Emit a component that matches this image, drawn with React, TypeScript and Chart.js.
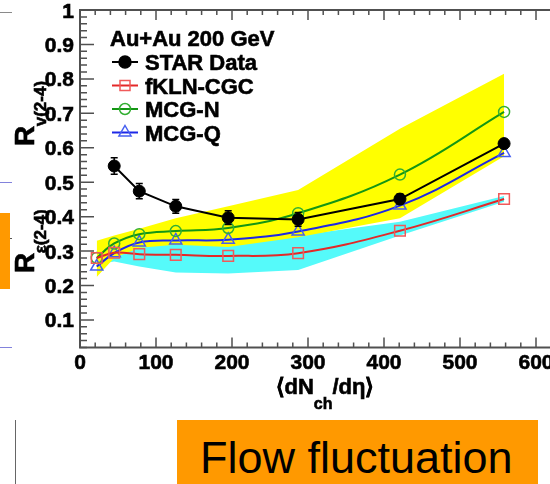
import React, { useEffect, useRef } from 'react';
import { Chart, registerables } from 'chart.js';

Chart.register(...registerables);

// ---- data ----
const multiplicity = [22, 45, 78, 126, 195, 287, 421, 558];
const starMultiplicity = [45, 78, 126, 195, 287, 421, 558];
const starData = [0.547, 0.474, 0.43, 0.397, 0.392, 0.451, 0.612];
const starError = [0.024, 0.022, 0.02, 0.02, 0.02, 0.015, 0.012];
const fklnCgc = [0.28, 0.295, 0.291, 0.289, 0.286, 0.294, 0.359, 0.451];
const mcgN = [0.28, 0.322, 0.349, 0.358, 0.367, 0.41, 0.522, 0.704];
const mcgQ = [0.255, 0.294, 0.325, 0.331, 0.333, 0.357, 0.432, 0.585];
const yellowUpper = [0.33, 0.345, 0.365, 0.395, 0.43, 0.477, 0.655, 0.815];
const yellowLower = [0.225, 0.28, 0.31, 0.318, 0.312, 0.34, 0.395, 0.575];
const cyanUpper = [0.285, 0.31, 0.32, 0.32, 0.315, 0.345, 0.385, 0.46];
const cyanLower = [0.262, 0.27, 0.255, 0.238, 0.235, 0.245, 0.345, 0.443];
const xTickValues = [0, 100, 200, 300, 400, 500, 600];
const xTickLabels = ['0', '100', '200', '300', '400', '500', '600'];
const yTickValues = [0.1, 0.2, 0.3, 0.4, 0.5, 0.6, 0.7, 0.8, 0.9, 1.0];
const yTickLabels = ['0.1', '0.2', '0.3', '0.4', '0.5', '0.6', '0.7', '0.8', '0.9', '1'];
const seriesNames = ['STAR Data', 'fKLN-CGC', 'MCG-N', 'MCG-Q'];
const legendTitle = 'Au+Au 200 GeV';

const FONT = '"Liberation Sans", Arial, Helvetica, sans-serif';

const RED_LINE = 'rgb(228,40,40)';
const RED_MARK = 'rgb(240,90,90)';
const GREEN_LINE = 'rgb(20,150,20)';
const GREEN_MARK = 'rgb(50,175,50)';
const BLUE_LINE = 'rgb(30,40,230)';
const BLUE_MARK = 'rgb(70,95,240)';

const pts = (xs: number[], ys: number[]) => xs.map((x, i) => ({ x, y: ys[i] }));

function boldText(ctx: CanvasRenderingContext2D, text: string, x: number, y: number) {
  ctx.fillText(text, x, y);
  ctx.lineWidth = 0.6;
  ctx.strokeStyle = ctx.fillStyle as string;
  ctx.strokeText(text, x, y);
}

function drawMarker(ctx: CanvasRenderingContext2D, style: string, x: number, y: number, color: string, filled: boolean) {
  ctx.save();
  ctx.strokeStyle = color;
  ctx.fillStyle = color;
  ctx.lineWidth = 1.5;
  ctx.beginPath();
  if (style === 'circle') {
    const r = filled ? 6 : 5.5;
    ctx.arc(x, y, r, 0, Math.PI * 2);
  } else if (style === 'rect') {
    ctx.rect(x - 5, y - 5, 10, 10);
  } else if (style === 'triangle') {
    const r = 7;
    ctx.moveTo(x, y - r);
    ctx.lineTo(x + r * 0.866, y + r * 0.5);
    ctx.lineTo(x - r * 0.866, y + r * 0.5);
    ctx.closePath();
  }
  if (filled) ctx.fill();
  ctx.stroke();
  ctx.restore();
}

const rootStyle = {
  id: 'rootStyle',
  afterDatasetsDraw(chart: any) {
    const ctx: CanvasRenderingContext2D = chart.ctx;
    const xs = chart.scales.x;
    const ys = chart.scales.y;
    ctx.save();
    ctx.strokeStyle = '#000';
    ctx.lineWidth = 1.5;
    starMultiplicity.forEach((m, i) => {
      const px = xs.getPixelForValue(m);
      const y1 = ys.getPixelForValue(starData[i] + starError[i]);
      const y2 = ys.getPixelForValue(starData[i] - starError[i]);
      ctx.beginPath();
      ctx.moveTo(px, y1);
      ctx.lineTo(px, y2);
      ctx.moveTo(px - 3.5, y1);
      ctx.lineTo(px + 3.5, y1);
      ctx.moveTo(px - 3.5, y2);
      ctx.lineTo(px + 3.5, y2);
      ctx.stroke();
    });
    ctx.restore();
  },
  afterDraw(chart: any) {
    const ctx: CanvasRenderingContext2D = chart.ctx;
    const xs = chart.scales.x;
    const ys = chart.scales.y;
    const { left, top, right, bottom } = chart.chartArea;
    ctx.save();
    // frame
    ctx.strokeStyle = '#505050';
    ctx.lineWidth = 2;
    ctx.strokeRect(left, top, right - left, bottom - top);
    // x ticks (bottom and top, inside)
    ctx.lineWidth = 1.5;
    for (let v = 0; v <= 640; v += 20) {
      const px = xs.getPixelForValue(v);
      if (px > right) break;
      const len = v % 100 === 0 ? 10 : 5;
      ctx.beginPath();
      ctx.moveTo(px, bottom);
      ctx.lineTo(px, bottom - len);
      ctx.moveTo(px, top);
      ctx.lineTo(px, top + len);
      ctx.stroke();
    }
    // y ticks (left and right, inside)
    for (let k = 1; k <= 50; k++) {
      const v = k * 0.02;
      const py = ys.getPixelForValue(v);
      const len = k % 5 === 0 ? 14 : 7;
      ctx.beginPath();
      ctx.moveTo(left, py);
      ctx.lineTo(left + len, py);
      ctx.moveTo(right, py);
      ctx.lineTo(right - len, py);
      ctx.stroke();
    }
    // tick labels
    ctx.fillStyle = '#000';
    ctx.font = `bold 21px ${FONT}`;
    ctx.textBaseline = 'alphabetic';
    ctx.textAlign = 'center';
    xTickValues.forEach((v, i) => {
      boldText(ctx, xTickLabels[i], xs.getPixelForValue(v), bottom + 21);
    });
    ctx.textAlign = 'right';
    yTickValues.forEach((v, i) => {
      boldText(ctx, yTickLabels[i], left - 6, ys.getPixelForValue(v) + 7.5);
    });

    // x title: <dN_ch/d eta>
    ctx.textAlign = 'left';
    const main1 = '\u27E8dN';
    const sub = 'ch';
    const main2 = '/d\u03B7\u27E9';
    ctx.font = `bold 22px ${FONT}`;
    const w1 = ctx.measureText(main1).width;
    const w3 = ctx.measureText(main2).width;
    ctx.font = `bold 16px ${FONT}`;
    const w2 = ctx.measureText(sub).width;
    const total = w1 + w2 + w3;
    let sx = 325 - total / 2;
    ctx.font = `bold 22px ${FONT}`;
    boldText(ctx, main1, sx, 394);
    sx += w1;
    ctx.font = `bold 16px ${FONT}`;
    boldText(ctx, sub, sx, 409);
    sx += w2;
    ctx.font = `bold 22px ${FONT}`;
    boldText(ctx, main2, sx, 394);

    // y titles (rotated)
    const drawRot = (baseX: number, baseY: number, subText: string) => {
      ctx.save();
      ctx.translate(baseX, baseY);
      ctx.rotate(-Math.PI / 2);
      ctx.textAlign = 'left';
      ctx.font = `bold 28px ${FONT}`;
      boldText(ctx, 'R', 0, 0);
      const wr = ctx.measureText('R').width;
      ctx.font = `bold 17px ${FONT}`;
      boldText(ctx, subText, wr - 0.5, 12);
      ctx.restore();
    };
    drawRot(34, 146, 'v(2-4)');
    drawRot(34, 273, '\u03B5(2-4)');

    // legend
    ctx.textAlign = 'left';
    ctx.font = `bold 22px ${FONT}`;
    ctx.fillStyle = '#000';
    boldText(ctx, legendTitle, 110, 46);
    const rows = [62, 85.5, 109, 132.5];
    const lineColors = ['#000', RED_LINE, GREEN_LINE, BLUE_LINE];
    const markColors = ['#000', RED_MARK, GREEN_MARK, BLUE_MARK];
    const styles = ['circle', 'rect', 'circle', 'triangle'];
    rows.forEach((cy, i) => {
      ctx.strokeStyle = lineColors[i];
      ctx.lineWidth = 2;
      ctx.beginPath();
      ctx.moveTo(112, cy);
      ctx.lineTo(138, cy);
      ctx.stroke();
      drawMarker(ctx, styles[i], 125, cy, markColors[i], i === 0);
      ctx.fillStyle = '#000';
      ctx.font = `bold 22px ${FONT}`;
      boldText(ctx, seriesNames[i], 145, cy + 8);
    });
    ctx.restore();
  },
};

export default function App() {
  const ref = useRef<HTMLCanvasElement>(null);

  useEffect(() => {
    const canvas = ref.current;
    if (!canvas) return;
    const band = (data: number[], color: string, fill: any) => ({
      data: pts(multiplicity, data),
      showLine: true,
      borderWidth: 0,
      borderColor: 'rgba(0,0,0,0)',
      backgroundColor: color,
      pointRadius: 0,
      tension: 0,
      fill,
    });
    const chart = new Chart(canvas, {
      type: 'scatter',
      data: {
        datasets: [
          {
            label: seriesNames[0],
            data: pts(starMultiplicity, starData),
            showLine: true,
            borderColor: '#000',
            borderWidth: 2,
            pointRadius: 6,
            pointBackgroundColor: '#000',
            pointBorderColor: '#000',
            pointBorderWidth: 1,
            tension: 0,
            fill: false,
          },
          {
            label: seriesNames[1],
            data: pts(multiplicity, fklnCgc),
            showLine: true,
            borderColor: RED_LINE,
            borderWidth: 2,
            pointStyle: 'rect',
            pointRadius: 7.5,
            pointBackgroundColor: 'rgba(0,0,0,0)',
            pointBorderColor: RED_MARK,
            pointBorderWidth: 1.5,
            tension: 0.4,
            fill: false,
          },
          {
            label: seriesNames[2],
            data: pts(multiplicity, mcgN),
            showLine: true,
            borderColor: GREEN_LINE,
            borderWidth: 2,
            pointStyle: 'circle',
            pointRadius: 5.5,
            pointBackgroundColor: 'rgba(0,0,0,0)',
            pointBorderColor: GREEN_MARK,
            pointBorderWidth: 1.5,
            tension: 0.4,
            fill: false,
          },
          {
            label: seriesNames[3],
            data: pts(multiplicity, mcgQ),
            showLine: true,
            borderColor: BLUE_LINE,
            borderWidth: 2,
            pointStyle: 'triangle',
            pointRadius: 7,
            pointBackgroundColor: 'rgba(0,0,0,0)',
            pointBorderColor: BLUE_MARK,
            pointBorderWidth: 1.5,
            tension: 0.4,
            fill: false,
          },
          band(yellowUpper, '#ffff00', '+1'),
          band(yellowLower, '#ffff00', false),
          band(cyanUpper, 'rgb(85,250,250)', '+1'),
          band(cyanLower, 'rgb(85,250,250)', false),
        ] as any,
      },
      options: {
        animation: false,
        responsive: false,
        events: [],
        layout: { padding: { left: 80, top: 10, right: 26, bottom: 136.5 } },
        plugins: { legend: { display: false }, tooltip: { enabled: false } },
        scales: {
          x: { type: 'linear', min: 0, max: 650, display: false },
          y: { type: 'linear', min: 0.02, max: 1.0, display: false },
        },
      } as any,
      plugins: [rootStyle],
    });
    return () => chart.destroy();
  }, []);

  const abs = (s: React.CSSProperties): React.CSSProperties => ({ position: 'absolute', ...s });

  return (
    <div style={{ position: 'fixed', left: 0, top: 0, width: 550, height: 484, overflow: 'hidden', background: '#fff' }}>
      <canvas ref={ref} width={600} height={484} style={abs({ left: 0, top: 0, width: 600, height: 484 })} />
      <div style={abs({ left: 0, top: 12, width: 12, height: 1, background: '#8a8a8a' })} />
      <div style={abs({ left: 0, top: 182, width: 12, height: 1, background: 'rgb(130,130,220)' })} />
      <div style={abs({ left: 0, top: 213, width: 10, height: 76, background: '#ff9900' })} />
      <div style={abs({ left: 10, top: 238, width: 2, height: 1, background: '#555' })} />
      <div style={abs({ left: 0, top: 347, width: 12, height: 1, background: 'rgb(130,130,220)' })} />
      <div style={abs({ left: 15, top: 420, width: 1, height: 64, background: '#666' })} />
      <div
        style={abs({
          left: 177,
          top: 420,
          width: 361,
          height: 64,
          background: '#ff9900',
          fontFamily: FONT,
          fontSize: 45,
          color: '#000',
          lineHeight: '64px',
          paddingLeft: 23,
          paddingTop: 6,
          boxSizing: 'border-box',
          whiteSpace: 'nowrap',
          overflow: 'hidden',
        })}
      >
        Flow fluctuation
      </div>
    </div>
  );
}
